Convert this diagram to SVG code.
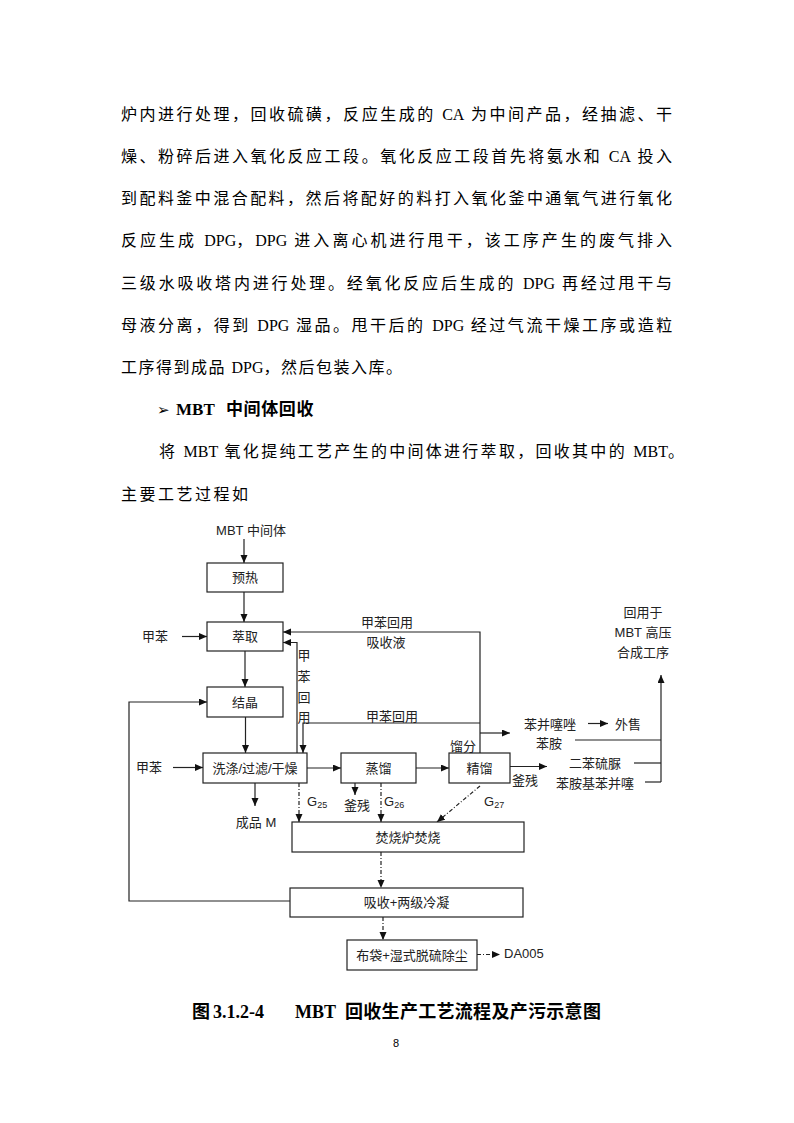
<svg xmlns="http://www.w3.org/2000/svg" width="794" height="1123" viewBox="0 0 794 1123">
<style>
.body{font-family:'Liberation Serif','Noto Sans CJK SC',serif;font-size:16px;fill:#000}
.la{letter-spacing:0}
.lbl{font-family:'Liberation Sans','Noto Sans CJK SC',sans-serif;font-size:13px;fill:#222;text-anchor:middle}
.lbs{font-family:'Liberation Sans','Noto Sans CJK SC',sans-serif;font-size:13px;fill:#222}
.box{fill:#fff;stroke:#222;stroke-width:1.2}
.ln{fill:none;stroke:#222;stroke-width:1.2}
.dd{fill:none;stroke:#222;stroke-width:1.2;stroke-dasharray:4 2 1 2}
.cap{font-family:'Liberation Serif','Noto Sans CJK SC',serif;font-size:18px;font-weight:bold;fill:#000}
</style>
<defs>
<marker id="ah" markerUnits="userSpaceOnUse" markerWidth="9" markerHeight="8" refX="8" refY="3.5" orient="auto">
<path d="M0,0 L8,3.5 L0,7 z" fill="#111"/>
</marker>
</defs>
<rect width="794" height="1123" fill="#fff"/>

<g id="bodytext" class="body">
<text x="121" y="120" letter-spacing="2.51">炉内进行处理，回收硫磺，反应生成的 <tspan class="la">CA</tspan> 为中间产品，经抽滤、干</text>
<text x="121" y="162" letter-spacing="2.51">燥、粉碎后进入氧化反应工段。氧化反应工段首先将氨水和 <tspan class="la">CA</tspan> 投入</text>
<text x="121" y="204" letter-spacing="2.45">到配料釜中混合配料，然后将配好的料打入氧化釜中通氧气进行氧化</text>
<text x="121" y="246" letter-spacing="3.04">反应生成 <tspan class="la">DPG</tspan>，<tspan class="la">DPG</tspan> 进入离心机进行甩干，该工序产生的废气排入</text>
<text x="121" y="289" letter-spacing="2.82">三级水吸收塔内进行处理。经氧化反应后生成的 <tspan class="la">DPG</tspan> 再经过甩干与</text>
<text x="121" y="331" letter-spacing="2.54">母液分离，得到 <tspan class="la">DPG</tspan> 湿品。甩干后的 <tspan class="la">DPG</tspan> 经过气流干燥工序或造粒</text>
<text x="121" y="373" letter-spacing="1.5">工序得到成品 <tspan class="la">DPG</tspan>，然后包装入库。</text>
<text y="415"><tspan x="157" font-family="'DejaVu Sans',sans-serif" font-size="15">➢</tspan><tspan x="176" font-weight="bold" font-size="17">MBT</tspan><tspan x="226" font-weight="bold" font-size="17" letter-spacing="0.6">中间体回收</tspan></text>
<text x="159" y="457" letter-spacing="2.29">将 <tspan class="la">MBT</tspan> 氧化提纯工艺产生的中间体进行萃取，回收其中的 <tspan class="la">MBT</tspan>。</text>
<text x="121" y="500" letter-spacing="2.5">主要工艺过程如</text>
</g>

<g id="connectors">
<line class="ln" x1="244" y1="539" x2="244" y2="563" marker-end="url(#ah)"/>
<line class="ln" x1="244" y1="592" x2="244" y2="622" marker-end="url(#ah)"/>
<line class="ln" x1="182" y1="636.5" x2="207" y2="636.5" marker-end="url(#ah)"/>
<line class="ln" x1="245" y1="651" x2="245" y2="687" marker-end="url(#ah)"/>
<polyline class="ln" points="480,753 480,632 283,632" marker-end="url(#ah)"/>
<polyline class="ln" points="297,753 297,642.5 283,642.5" marker-end="url(#ah)"/>
<polyline class="ln" points="480,723 303,723 303,753" marker-end="url(#ah)"/>
<line class="ln" x1="480" y1="733" x2="510" y2="733" marker-end="url(#ah)"/>
<polyline class="ln" points="290,901 129,901 129,702 207,702" marker-end="url(#ah)"/>
<line class="ln" x1="245.5" y1="717" x2="245.5" y2="753" marker-end="url(#ah)"/>
<line class="ln" x1="173" y1="767.5" x2="203" y2="767.5" marker-end="url(#ah)"/>
<line class="ln" x1="307" y1="768" x2="341" y2="768" marker-end="url(#ah)"/>
<line class="ln" x1="416" y1="768" x2="449" y2="768" marker-end="url(#ah)"/>
<line class="ln" x1="510" y1="766.5" x2="547" y2="766.5" marker-end="url(#ah)"/>
<line class="ln" x1="588" y1="723.5" x2="608" y2="723.5" marker-end="url(#ah)"/>
<line class="ln" x1="575" y1="740" x2="661" y2="740"/>
<line class="ln" x1="634" y1="763" x2="661" y2="763"/>
<line class="ln" x1="645" y1="782" x2="661" y2="782"/>
<line class="ln" x1="661" y1="782" x2="661" y2="675" marker-end="url(#ah)"/>
<line class="ln" x1="255" y1="783" x2="255" y2="806" marker-end="url(#ah)"/>
<line class="ln" x1="355" y1="783" x2="355" y2="795" marker-end="url(#ah)"/>
<line class="dd" x1="299" y1="783" x2="299" y2="822" marker-end="url(#ah)"/>
<line class="dd" x1="381" y1="783" x2="381" y2="822" marker-end="url(#ah)"/>
<line class="dd" x1="480" y1="786" x2="437" y2="822" marker-end="url(#ah)"/>
<line class="dd" x1="381" y1="852" x2="381" y2="888" marker-end="url(#ah)"/>
<line class="dd" x1="383" y1="917" x2="383" y2="940" marker-end="url(#ah)"/>
<line class="dd" x1="477" y1="954.5" x2="500" y2="954.5" marker-end="url(#ah)"/>
</g>

<g id="n-preheat"><rect class="box" x="207" y="563" width="76" height="29"/><text class="lbl" x="245" y="582">预热</text></g>
<g id="n-extract"><rect class="box" x="207" y="622" width="76" height="29"/><text class="lbl" x="245" y="641">萃取</text></g>
<g id="n-crystal"><rect class="box" x="207" y="687" width="76" height="30"/><text class="lbl" x="245" y="706.5">结晶</text></g>
<g id="n-wash"><rect class="box" x="203" y="753" width="104" height="30"/><text class="lbl" x="255" y="772.5">洗涤/过滤/干燥</text></g>
<g id="n-distill"><rect class="box" x="341" y="753" width="75" height="30"/><text class="lbl" x="378.5" y="772.5">蒸馏</text></g>
<g id="n-rectify"><rect class="box" x="449" y="753" width="61" height="30"/><text class="lbl" x="479.5" y="772.5">精馏</text></g>
<g id="n-incin"><rect class="box" x="292" y="822" width="232" height="30"/><text class="lbl" x="408" y="841.5">焚烧炉焚烧</text></g>
<g id="n-absorb"><rect class="box" x="290" y="888" width="233" height="29"/><text class="lbl" x="406.5" y="907">吸收+两级冷凝</text></g>
<g id="n-bag"><rect class="box" x="347" y="940" width="130" height="30"/><text class="lbl" x="412" y="959.5">布袋+湿式脱硫除尘</text></g>

<g id="labels">
<text class="lbl" x="251" y="535">MBT 中间体</text>
<text class="lbl" x="155" y="641">甲苯</text>
<text class="lbl" x="149" y="772">甲苯</text>
<text class="lbl" x="387" y="627">甲苯回用</text>
<text class="lbl" x="386" y="647">吸收液</text>
<text class="lbl" x="392" y="721">甲苯回用</text>
<text class="lbl" x="304" y="659.5">甲</text>
<text class="lbl" x="304" y="681">苯</text>
<text class="lbl" x="304" y="702">回</text>
<text class="lbl" x="304" y="721.5">用</text>
<text class="lbl" x="463" y="751">馏分</text>
<text class="lbl" x="550" y="729">苯并噻唑</text>
<text class="lbl" x="628" y="729">外售</text>
<text class="lbl" x="549" y="748">苯胺</text>
<text class="lbl" x="595" y="768">二苯硫脲</text>
<text class="lbl" x="595" y="788">苯胺基苯并噻</text>
<text class="lbl" x="643" y="617">回用于</text>
<text class="lbl" x="643" y="637">MBT 高压</text>
<text class="lbl" x="643" y="657">合成工序</text>
<text class="lbl" x="525" y="785">釜残</text>
<text class="lbl" x="357" y="810">釜残</text>
<text class="lbl" x="256" y="827">成品 M</text>
<text class="lbs" x="307" y="806">G<tspan font-size="9" dy="2">25</tspan></text>
<text class="lbs" x="384" y="806">G<tspan font-size="9" dy="2">26</tspan></text>
<text class="lbs" x="484" y="806">G<tspan font-size="9" dy="2">27</tspan></text>
<text class="lbs" x="504" y="958" font-size="12">DA005</text>
</g>

<g id="caption">
<text class="cap" y="1018"><tspan x="192">图</tspan><tspan x="213">3.1.2-4</tspan><tspan x="295">MBT</tspan><tspan x="345" letter-spacing="0.3">回收生产工艺流程及产污示意图</tspan></text>
<text x="396" y="1047" font-family="'Liberation Sans',sans-serif" font-size="11" text-anchor="middle">8</text>
</g>
</svg>
